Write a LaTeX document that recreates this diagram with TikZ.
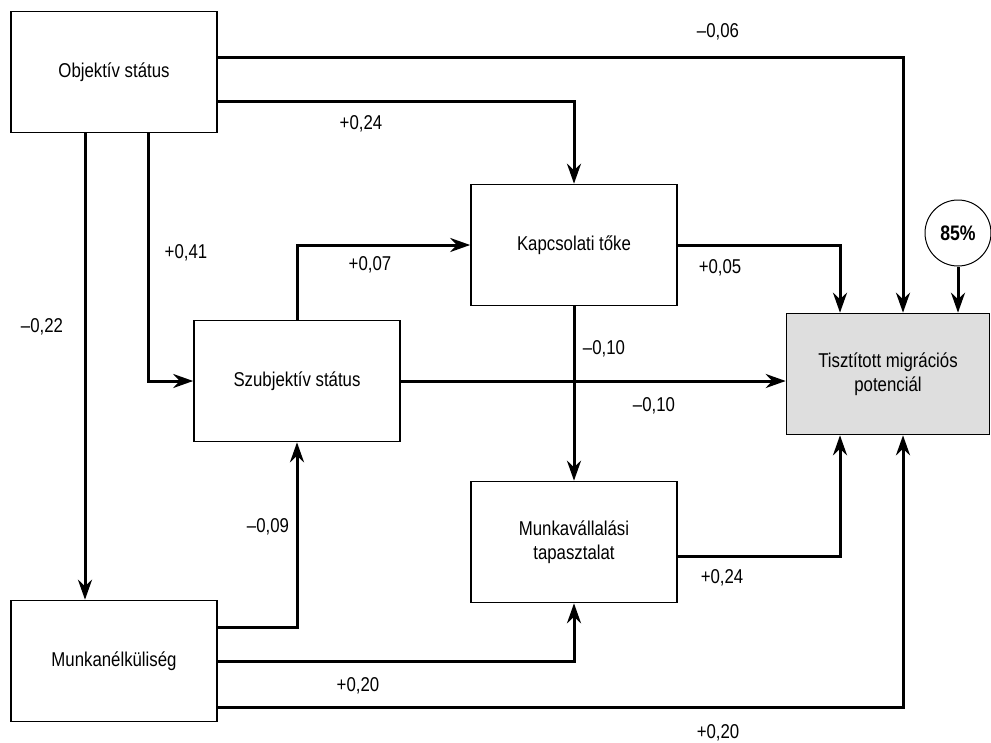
\documentclass[tikz,border=0pt]{standalone}
\usepackage{fontspec}
\setmainfont{Liberation Sans}[FakeStretch=0.84]
\usetikzlibrary{arrows.meta}
\tikzset{
	box/.style={draw,line width=1.6pt,minimum width=206pt,minimum height=121pt,align=center,inner sep=0pt},
	arr/.style={->,line width=3pt},
	lbl/.style={inner sep=0pt}
}
\begin{document}
\begin{tikzpicture}[>={Stealth[length=20pt,width=14pt]},line join=miter,x=1pt,y=-1pt,font=\fontsize{20}{24}\selectfont]
			\useasboundingbox (0,0) rectangle (991,742);
			\node[box] (obj) at (114,72) {Objektív státus};
			\node[box] (kap) at (574,245) {Kapcsolati tőke};
			\node[box] (sub) at (297,381) {Szubjektív státus};
			\node[box,fill=black!13,minimum width=203pt] (pot) at (888,374) {Tisztított migrációs\\potenciál};
			\node[box] (mva) at (574,542) {Munkavállalási\\tapasztalat};
			\node[box] (mun) at (114,661) {Munkanélküliség};
			\node[draw,circle,line width=1pt,minimum size=66pt,inner sep=0pt,font=\fontsize{21}{24}\selectfont\bfseries] (c85) at (958,233) {85\%};
			% nyilak
			\draw[arr] ([yshift=15pt]obj.east) -| ([xshift=15pt]pot.north);
			\draw[arr] ([yshift=-29pt]obj.east) -| (kap.north);
			\draw[arr] ([xshift=34pt]obj.south) |- (sub.west);
			\draw[arr] ([xshift=-29pt]obj.south) -- ([xshift=-29pt]mun.north);
			\draw[arr] (sub.north) |- (kap.west);
			\draw[arr] (kap.east) -| ([xshift=-48pt]pot.north);
			\draw[arr] (kap.south) -- (mva.north);
			\draw[arr] (sub.east) -- (sub.east -| pot.west);
			\draw[arr] ([yshift=34pt]mun.east) -| (sub.south);
			\draw[arr] (mun.east) -| (mva.south);
			\draw[arr] ([yshift=-46pt]mun.east) -| ([xshift=15pt]pot.south);
			\draw[arr] ([yshift=-14pt]mva.east) -| ([xshift=-48pt]pot.south);
			\draw[arr] (c85.south) -- (c85.south |- pot.north);
			% együtthatók
			\node[lbl] at (718,32) {–0,06};
			\node[lbl] at (361,124) {+0,24};
			\node[lbl] at (186,253) {+0,41};
			\node[lbl] at (42,327) {–0,22};
			\node[lbl] at (370,265) {+0,07};
			\node[lbl] at (720,268) {+0,05};
			\node[lbl] at (604,349) {–0,10};
			\node[lbl] at (654,406) {–0,10};
			\node[lbl] at (268,527) {–0,09};
			\node[lbl] at (358,686) {+0,20};
			\node[lbl] at (718,733) {+0,20};
			\node[lbl] at (722,578) {+0,24};
	\end{tikzpicture}
\end{document}
